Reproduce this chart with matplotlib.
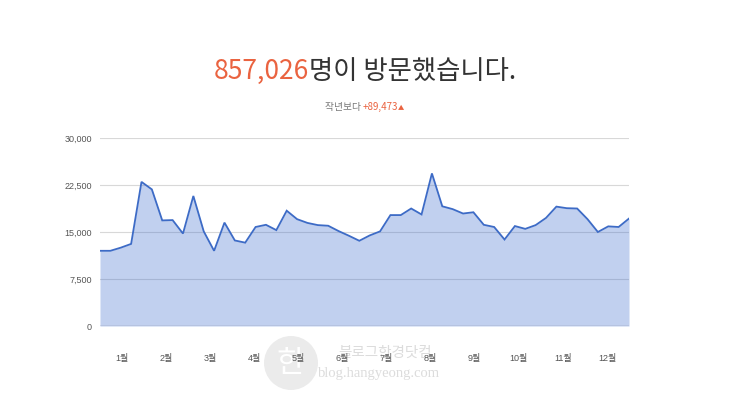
import matplotlib
matplotlib.use('Agg')
import matplotlib.pyplot as plt
from matplotlib.patches import Circle
from matplotlib.transforms import IdentityTransform
import numpy as np

# ---- data (weekly visitors) ----
visits = [12000, 12000, 12500, 13100, 23000, 21800, 16850, 16900, 14750, 20750,
          15100, 12000, 16500, 13650, 13300, 15800, 16150, 15300, 18400, 17050,
          16450, 16100, 16000, 15150, 14400, 13600, 14450, 15100, 17700, 17700,
          18750, 17800, 24350, 19100, 18650, 17950, 18150, 16150, 15800, 13800,
          15950, 15500, 16100, 17250, 19050, 18800, 18750, 17050, 15000, 15900,
          15800, 17150]
months = ['1월', '2월', '3월', '4월', '5월', '6월', '7월', '8월', '9월', '10월', '11월', '12월']
yticks = [0, 7500, 15000, 22500, 30000]
title_number = '857,026'
title_rest = '명이 방문했습니다.'
sub_prefix = '작년보다 '
sub_delta = '+89,473'
sub_arrow = '▲'
wm_kr = '블로그한경닷컴'
wm_en = 'blog.hangyeong.com'

W, H = 740, 416
FAM = ['Noto Sans CJK KR', 'DejaVu Sans']
TICKFAM = ['Liberation Sans', 'Noto Sans CJK KR']
ORANGE = '#ea6340'

fig = plt.figure(figsize=(W / 100, H / 100), dpi=100)
fig.patch.set_facecolor('white')
ax = fig.add_axes([100 / W, 90 / H, 529 / W, 188 / H])
ax.set_zorder(1)
ax.patch.set_alpha(0)

x = np.arange(len(visits))
for v in yticks[1:]:
    ax.axhline(v, color='#d8d8d8', lw=0.8, zorder=1)
ax.fill_between(x, visits, 0, color='#3366cc', alpha=0.3, lw=0, zorder=2)
ax.plot(x, visits, color='#3d6bc6', lw=1.3, zorder=3, solid_joinstyle='miter')
ax.axhline(0, color='#8a90a6', lw=1.0, zorder=4)

ax.set_xlim(0, len(visits) - 1)
ax.set_ylim(0, 30000)
ax.set_yticks(yticks)
ax.set_yticklabels([f'{v:,}' for v in yticks])
span = (len(visits) - 1) / 12
ax.set_xticks([(k + 0.5) * span for k in range(12)])
ax.set_xticklabels(months)
ax.tick_params(length=0, labelsize=6.5, colors='#555555')
ax.tick_params(axis='x', pad=20)
ax.tick_params(axis='y', pad=6)
for lab in ax.get_xticklabels() + ax.get_yticklabels():
    lab.set_family(TICKFAM)
for s in ax.spines.values():
    s.set_visible(False)

renderer = fig.canvas.get_renderer()


def centered_row(pieces, y_px, cx_px=364.5, weight='normal'):
    texts = []
    for s, c, fs in pieces:
        t = fig.text(0, 1 - y_px / H, s, color=c, fontsize=fs, va='baseline',
                     ha='left', family=FAM, weight=weight)
        texts.append(t)
    widths = [t.get_window_extent(renderer).width for t in texts]
    x0 = cx_px - sum(widths) / 2
    for t, w in zip(texts, widths):
        t.set_x(x0 / W)
        x0 += w


centered_row([(title_number, ORANGE, 19), (title_rest, '#333333', 19)], 79, weight='light')
centered_row([(sub_prefix, '#777777', 7), (sub_delta, ORANGE, 7), (sub_arrow, ORANGE, 4.5)], 110)

# ---- watermark (drawn beneath the chart layer) ----
circ = Circle((291, H - 363), 27, transform=IdentityTransform(), facecolor='#ebebeb',
              edgecolor='none', zorder=-2)
fig.patches.append(circ)
fig.text(291 / W, 1 - 363 / H, '한', color='white', fontsize=22, ha='center', va='center',
         family=FAM, zorder=-1)
fig.text(385 / W, 1 - 353 / H, wm_kr, color='#dcdcdc', fontsize=10.5, ha='center',
         va='center', family=FAM, zorder=-1)
fig.text(379 / W, 1 - 373 / H, wm_en, color='#dcdcdc', fontsize=10.5, ha='center',
         va='center', family=['Liberation Serif', 'DejaVu Serif'], zorder=-1)

fig.savefig('out.png', dpi=100, facecolor='white')
